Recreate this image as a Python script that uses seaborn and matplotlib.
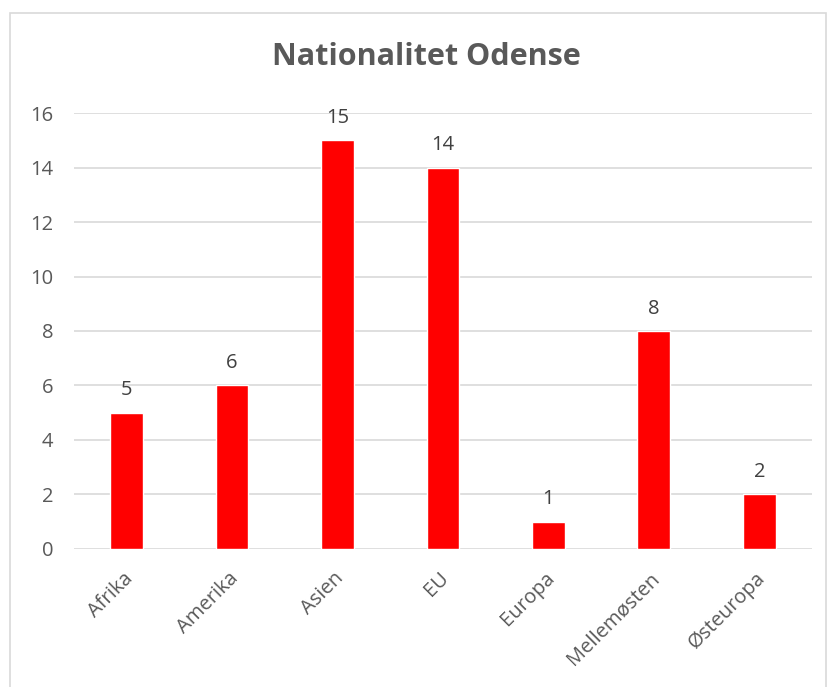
import matplotlib.pyplot as plt
import seaborn as sns
from matplotlib.patches import Rectangle
from matplotlib.transforms import ScaledTranslation

regions = ["Afrika", "Amerika", "Asien", "EU", "Europa", "Mellemøsten", "Østeuropa"]
counts = [5, 6, 15, 14, 1, 8, 2]

sns.set_style("white")
plt.rcParams['font.family'] = ['Open Sans', 'DejaVu Sans']

fig = plt.figure(figsize=(8.34, 6.87), dpi=100)
ax = fig.add_axes([0.0887, 0.2009, 0.8849, 0.6346])

sns.barplot(x=regions, y=counts, color="#ff0000", saturation=1, width=0.31, ax=ax)

for i, v in enumerate(counts):
    ax.text(i, v + 0.45, str(v), ha="center", va="bottom", fontsize=14.5, color="#404040")

ax.set_ylim(0, 16)
ax.set_xlim(-0.5, len(regions) - 0.5)
ax.set_yticks(range(0, 17, 2))
ax.yaxis.grid(True, color="#d9d9d9", linewidth=1.2)
ax.set_axisbelow(True)
sns.despine(ax=ax, left=True, bottom=True)
ax.tick_params(axis="both", length=0, labelsize=14.5, colors="#595959")
ax.tick_params(axis="y", pad=15)
ax.tick_params(axis="x", pad=19)
offset = ScaledTranslation(3 / 100, 0, fig.dpi_scale_trans)
for lab in ax.get_xticklabels():
    lab.set_rotation(45)
    lab.set_ha("right")
    lab.set_va("center")
    lab.set_rotation_mode("anchor")
    lab.set_transform(lab.get_transform() + offset)
ax.set_xlabel("")
ax.set_ylabel("")

fig.text(0.511, 0.917, "Nationalitet Odense", ha="center", va="center",
         fontsize=22, fontweight="bold", color="#595959")

fig.patches.append(Rectangle((10 / 834, -0.01), 816 / 834, 1 - 13 / 687 + 0.01,
                             transform=fig.transFigure, fill=False,
                             edgecolor="#d9d9d9", linewidth=1.2))

fig.savefig("out.png", dpi=100)
